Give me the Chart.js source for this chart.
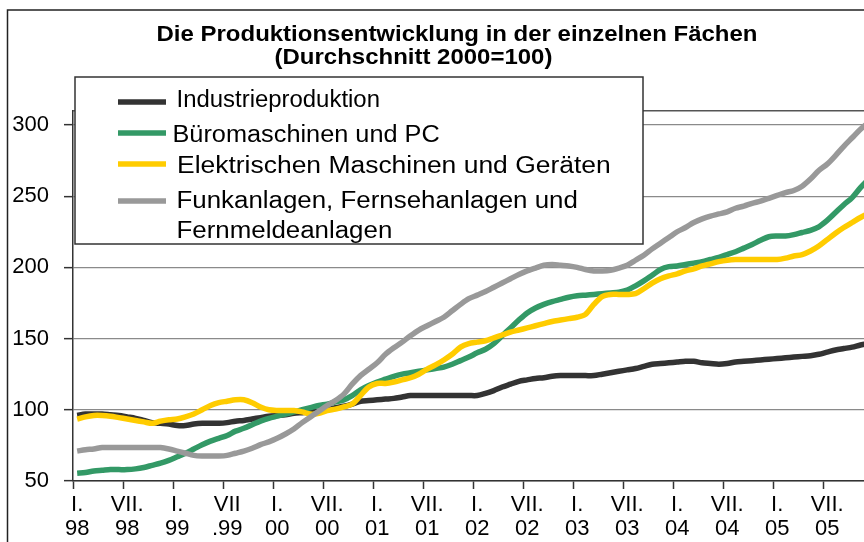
<!DOCTYPE html>
<html>
<head>
<meta charset="utf-8">
<script src="https://cdn.jsdelivr.net/npm/chart.js@4"></script>
<style>
  html, body { margin: 0; padding: 0; background: #fff; overflow: hidden; }
  #wrap { width: 900px; height: 542px; }
</style>
</head>
<body>
<div id="wrap"><canvas id="myChart" width="900" height="542"></canvas></div>
<script>
const years = ["98", "99", "00", "01", "02", "03", "04", "05"];
const months = ["01", "02", "03", "04", "05", "06", "07", "08", "09", "10", "11", "12"];
const categories = years.flatMap(y => months.map(m => m + "." + y));

const tickLabels = [
  ["I.", "98"], ["VII.", "98"], ["I.", "99"], ["VII", ".99"],
  ["I.", "00"], ["VII.", "00"], ["I.", "01"], ["VII.", "01"],
  ["I.", "02"], ["VII.", "02"], ["I.", "03"], ["VII.", "03"],
  ["I.", "04"], ["VII.", "04"], ["I.", "05"], ["VII.", "05"]
];

const yTicks = [50, 100, 150, 200, 250, 300];

const industrie = [96, 97, 97, 97, 96.5, 96, 95, 94, 92.5, 91, 90.5, 90,
  89, 89, 90, 90.5, 90.5, 90.5, 91, 92, 92.5, 93.5, 94.5, 95.5,
  96, 96.5, 97.5, 98, 98.5, 99, 100, 101.5, 102.5, 104, 106, 106.5,
  107, 107.5, 108, 109, 110, 110, 110, 110, 110, 110, 110, 110,
  110, 111.5, 113.5, 116, 118, 120, 121, 122, 122.5, 123.5, 124, 124,
  124, 124, 124, 125, 126, 127, 128, 129, 130.5, 132, 132.5, 133,
  133.5, 134, 134, 133, 132.5, 132, 132.5, 133.5, 134, 134.5, 135, 135.5,
  136, 136.5, 137, 137.5, 138, 139, 140.5, 142, 143, 144, 145.5, 146.5];

const buero = [55.5, 56, 57, 57.5, 58, 58, 58, 58.5, 59.5, 61, 62.5, 64.5,
  67, 69.5, 72.5, 75.5, 78, 80, 82, 85, 87, 89.5, 92, 94,
  95.5, 97, 98.5, 100, 101.5, 103, 104, 105.5, 107, 110, 114, 117,
  119.5, 121.5, 123.5, 125, 126, 127, 128, 129, 130, 132, 134.5, 137,
  140, 142.5, 146.5, 152, 157.5, 163, 168, 171.5, 174, 176, 177.5, 179,
  180, 180.5, 181, 181.5, 182, 182.5, 184, 187, 190.5, 194.5, 198.5, 200.5,
  201, 202, 203, 204, 205.5, 207, 209, 211, 213.5, 216, 219, 221.5,
  222, 222, 223, 224.5, 226, 228.5, 233, 238.5, 244, 249, 256, 262];

const elektr = [93.5, 95, 96, 96, 95.5, 94.5, 93.5, 92.5, 91.5, 90.5, 92, 93,
  93.5, 95, 97, 100, 103, 105, 106, 107, 107, 105, 102, 100,
  99.5, 99.5, 99.5, 98.5, 97, 97.5, 99.5, 100.5, 102, 104, 110, 116,
  118.5, 118.5, 119.5, 121, 122.5, 125, 128.5, 131.5, 135, 139, 144, 146.5,
  147.5, 148.5, 150.5, 152.5, 154.5, 156, 157.5, 159, 160.5, 162, 163, 164,
  165, 167, 174, 179.5, 181, 181, 181, 181.5, 185, 189, 192, 194,
  195.5, 197.5, 199, 201, 202.5, 204, 205, 205.5, 205.5, 205.5, 205.5, 205.5,
  205.5, 206.5, 208, 209, 211.5, 215, 219.5, 224, 228, 231.5, 235, 238];

const funk = [71, 72, 72.5, 73.5, 73.5, 73.5, 73.5, 73.5, 73.5, 73.5, 73.5, 72.5,
  71, 69.5, 68, 67.5, 67.5, 67.5, 68, 69.5, 71, 73, 75.5, 77.5,
  80, 83, 86.5, 91, 95, 99, 103, 106.5, 111, 118, 124, 128.5,
  133, 139, 143.5, 147.5, 152, 156, 159, 162, 165, 169.5, 174, 178,
  180.5, 183, 186, 189, 192, 195, 197.5, 199.5, 201.5, 202, 201.5, 201,
  200, 198.5, 197.5, 197.5, 198, 199.5, 201.5, 205, 208.5, 213, 217, 221,
  225, 228, 231.5, 234, 236, 237.5, 239, 241.5, 243, 245, 246.5, 248.5,
  250.5, 252.5, 254, 257, 262, 268, 272.5, 278.5, 285, 291, 297, 302];

const legendLines = [
  ["Industrieproduktion"],
  ["Büromaschinen und PC"],
  ["Elektrischen Maschinen und Geräten"],
  ["Funkanlagen, Fernsehanlagen und", "Fernmeldeanlagen"]
];
const colors = ["#333333", "#339966", "#ffcc00", "#999999"];
const titleLines = ["Die Produktionsentwicklung in der einzelnen Fächen", "(Durchschnitt 2000=100)"];

const FONT = "'Liberation Sans', Arial, sans-serif";

// draw text stretched horizontally (the reference is a bit wide)
function wideText(ctx, text, x, y, align, sx) {
  ctx.save();
  ctx.translate(x, y);
  ctx.scale(sx, 1);
  ctx.textAlign = align;
  ctx.fillText(text, 0, 0);
  ctx.restore();
}

const extras = {
  id: "extras",
  afterDraw(chart) {
    const ctx = chart.ctx;
    const a = chart.chartArea;
    ctx.save();

    // outer frame
    ctx.strokeStyle = "#222";
    ctx.lineWidth = 1.5;
    ctx.beginPath();
    ctx.moveTo(7.5, chart.height);
    ctx.lineTo(7.5, 10);
    ctx.lineTo(chart.width, 10);
    ctx.stroke();

    // top edge of plot area
    ctx.strokeStyle = "#555";
    ctx.beginPath();
    ctx.moveTo(a.left, a.top);
    ctx.lineTo(a.right, a.top);
    ctx.stroke();

    // title
    ctx.fillStyle = "#000";
    ctx.textBaseline = "alphabetic";
    ctx.font = "bold 22px " + FONT;
    wideText(ctx, titleLines[0], 457, 41, "center", 1.09);
    wideText(ctx, titleLines[1], 413.5, 64, "center", 1.09);

    // legend
    ctx.fillStyle = "#fff";
    ctx.fillRect(75, 77, 568, 167);
    ctx.strokeStyle = "#333";
    ctx.lineWidth = 1.5;
    ctx.strokeRect(75, 77, 568, 167);

    const lineY = [102, 133, 164, 201];
    const textX = [176.5, 172.5, 177, 176.5];
    const textY = [[107], [142], [173], [207.5, 238]];
    const stretch = [1.04, 1.1, 1.15, 1.125];
    ctx.font = "23px " + FONT;
    legendLines.forEach((lines, i) => {
      ctx.strokeStyle = colors[i];
      ctx.lineWidth = 5.5;
      ctx.beginPath();
      ctx.moveTo(118, lineY[i]);
      ctx.lineTo(166, lineY[i]);
      ctx.stroke();
      ctx.fillStyle = "#000";
      lines.forEach((t, j) => wideText(ctx, t, textX[i], textY[i][j], "left", stretch[i]));
    });
    ctx.restore();
  }
};

const series = [industrie, buero, elektr, funk];

const data = {
  labels: categories,
  datasets: series.map((values, i) => ({
    label: legendLines[i].join(" "),
    data: values,
    borderColor: colors[i],
    backgroundColor: colors[i],
    borderWidth: 5.5,
    pointRadius: 0,
    tension: 0.3,
    borderJoinStyle: "round",
    order: 3 - i
  }))
};

const config = {
  type: "line",
  data: data,
  options: {
    responsive: false,
    animation: false,
    devicePixelRatio: 1,
    layout: { padding: { top: 110.7, left: 0, right: 27, bottom: 0 } },
    plugins: {
      legend: { display: false },
      title: { display: false },
      tooltip: { enabled: false }
    },
    scales: {
      x: {
        type: "category",
        offset: true,
        afterFit: s => { s.height = 61; },
        border: { color: "#333", width: 1.5 },
        grid: {
          offset: true,
          drawOnChartArea: false,
          tickLength: 8,
          tickWidth: 1.5,
          tickColor: c => (c.index % 6 === 0 ? "#333" : "rgba(0,0,0,0)")
        },
        ticks: {
          autoSkip: false,
          maxRotation: 0,
          minRotation: 0,
          padding: 4,
          color: "#000",
          font: { family: FONT, size: 22, lineHeight: 1.1 },
          callback: (v, i) => (i % 6 === 0 ? tickLabels[i / 6] : "")
        }
      },
      y: {
        min: 50,
        max: 310,
        afterFit: s => { s.width = 73; },
        afterBuildTicks: s => { s.ticks = yTicks.map(v => ({ value: v })); },
        border: { color: "#333", width: 1.5 },
        grid: {
          color: "#8a8a8a",
          lineWidth: 1.3,
          tickLength: 9,
          tickColor: "#333",
          tickWidth: 1.5
        },
        ticks: {
          padding: 15,
          color: "#000",
          font: { family: FONT, size: 22 }
        }
      }
    }
  },
  plugins: [extras]
};

const myChart = new Chart(document.getElementById("myChart"), config);
</script>
</body>
</html>
